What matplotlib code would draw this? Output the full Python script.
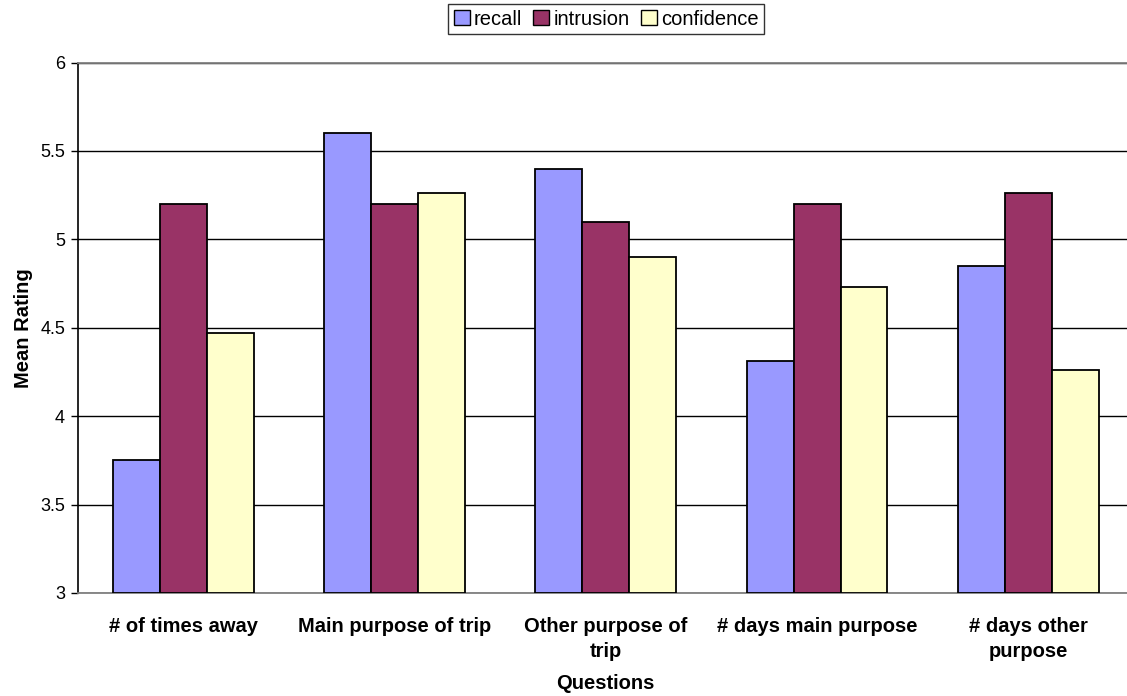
import matplotlib.pyplot as plt
import numpy as np

plt.rcParams["font.family"] = ["Liberation Sans", "DejaVu Sans"]

questions = ["# of times away", "Main purpose of trip", "Other purpose of\ntrip",
             "# days main purpose", "# days other\npurpose"]
recall = [3.75, 5.60, 5.40, 4.31, 4.85]
intrusion = [5.20, 5.20, 5.10, 5.20, 5.26]
confidence = [4.47, 5.26, 4.90, 4.73, 4.26]
y_ticks = [3, 3.5, 4, 4.5, 5, 5.5, 6]

series = [("recall", recall, "#9999FF"),
          ("intrusion", intrusion, "#993366"),
          ("confidence", confidence, "#FFFFCC")]

fig = plt.figure(figsize=(11.27, 6.96), dpi=100)
# plot area runs past the right edge of the figure
ax = fig.add_axes([0.0688, 0.148, 0.9374, 0.7622])

x = np.arange(len(questions))
w = 1 / 4.5
for i, (name, vals, col) in enumerate(series):
    ax.bar(x + (i - 1) * w, np.array(vals) - 3, width=w, bottom=3, color=col,
           edgecolor="black", linewidth=1.3, label=name, zorder=3)

ax.set_xlim(-0.5, len(questions) - 0.5)
ax.set_ylim(3, 6)
ax.set_yticks(y_ticks)
ax.set_yticklabels([f"{t:g}" for t in y_ticks], fontsize=13)
ax.set_xticks(x)
ax.set_xticklabels(questions, fontsize=14.5, fontweight="bold", linespacing=1.45)
ax.tick_params(axis="x", length=0, pad=17)
ax.tick_params(axis="y", length=5, width=1, direction="out", pad=4)
ax.yaxis.grid(True, color="black", linewidth=1, zorder=0)
ax.set_axisbelow(True)

for s in ["top", "right", "bottom"]:
    ax.spines[s].set_color("#808080")
    ax.spines[s].set_linewidth(1.3)
ax.spines["left"].set_color("black")
ax.spines["left"].set_linewidth(1.2)

ax.set_xlabel("Questions", fontsize=14.5, fontweight="bold", labelpad=9)
ax.set_ylabel("Mean Rating", fontsize=14.5, fontweight="bold", labelpad=5)

leg = fig.legend(loc="center", bbox_to_anchor=(0.5377, 0.9727), ncol=3, fontsize=14.5,
                 frameon=True, fancybox=False, handlelength=0.8, handleheight=0.8,
                 handletextpad=0.2, columnspacing=0.55, borderpad=0.28, borderaxespad=0)
leg.get_frame().set_edgecolor("black")
leg.get_frame().set_linewidth(1)
for h in leg.legend_handles:
    h.set_linewidth(1)

fig.savefig("out.png", dpi=100)
